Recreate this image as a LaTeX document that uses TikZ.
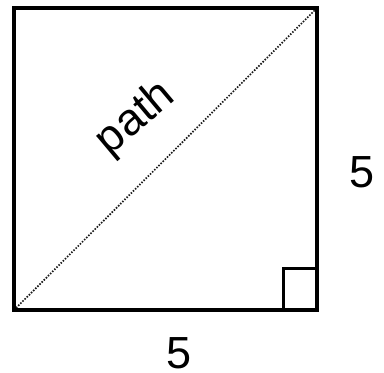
\documentclass[tikz,border=0pt]{standalone}
\usepackage{fontspec}
\setmainfont{Liberation Sans}
\begin{document}
\begin{tikzpicture}[x=1pt,y=-1pt,
  edge/.style={line width=3.2pt},
  diag/.style={line width=1.7pt,dash pattern=on 1.5pt off 1.5pt,draw=black!90},
  lbl/.style={font=\fontsize{45}{45}\selectfont,inner sep=0pt}]
\useasboundingbox (0,0) rectangle (384,373);
\coordinate (bl) at (14,310);
\coordinate (br) at (317,310);
\coordinate (tr) at (317,8);
\coordinate (tl) at (14,8);
\coordinate (ra1) at (283.5,310);
\coordinate (ra2) at (283.5,268);
\coordinate (ra3) at (317,268);
\draw[diag] (bl) -- (tr);
\draw[edge] (bl) -- (br) -- (tr) -- (tl) -- cycle;
\draw[edge,line width=3pt] (ra1) -- (ra2) -- (ra3);
\node[lbl,rotate=40] (p) at (136,119) {path};
\node[lbl] (r5) at (362,172) {5};
\node[lbl] (b5) at (179,353) {5};
\end{tikzpicture}
\end{document}
